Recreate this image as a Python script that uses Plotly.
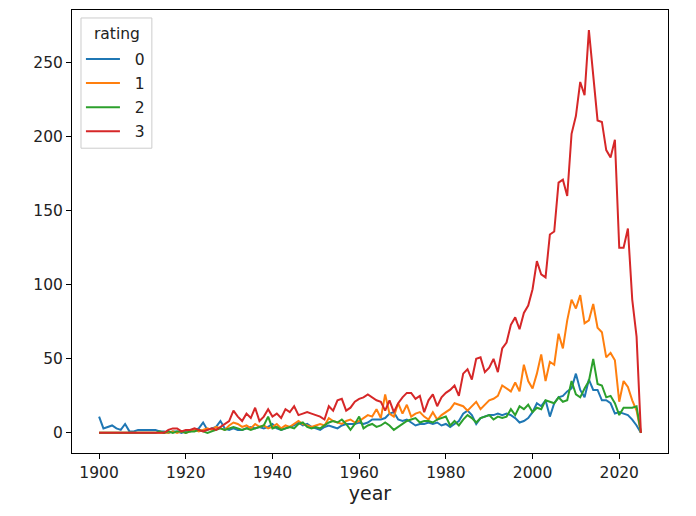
import plotly.graph_objects as go

# Yearly counts per rating
years = list(range(1900, 2026))

rating_0 = [11, 3, 4, 5, 3, 2, 6, 1, 1, 2,
            2, 2, 2, 2, 1, 1, 0, 1, 1, 0,
            1, 1, 2, 3, 7, 2, 3, 4, 8, 3,
            2, 3, 2, 2, 3, 4, 3, 4, 3, 4,
            6, 3, 2, 3, 4, 5, 7, 5, 6, 4,
            3, 2, 4, 5, 4, 3, 5, 6, 6, 6,
            7, 6, 7, 9, 9, 9, 10, 13, 14, 9,
            8, 9, 7, 5, 6, 6, 7, 6, 7, 5,
            6, 4, 6, 8, 13, 15, 12, 6, 10, 11,
            12, 12, 13, 12, 13, 12, 10, 7, 8, 10,
            14, 20, 18, 22, 11, 20, 24, 25, 28, 30,
            40, 29, 24, 36, 29, 29, 22, 22, 20, 13,
            14, 13, 12, 9, 5, 0]

rating_1 = [0, 0, 0, 0, 0, 0, 0, 0, 0, 0,
            0, 0, 0, 0, 0, 0, 0, 1, 0, 1,
            0, 1, 2, 1, 2, 3, 2, 4, 3, 2,
            5, 7, 6, 4, 5, 3, 6, 4, 5, 3,
            4, 6, 3, 5, 4, 6, 8, 6, 5, 4,
            5, 6, 5, 10, 8, 7, 6, 8, 9, 7,
            8, 10, 12, 11, 16, 10, 26, 13, 11, 20,
            13, 19, 11, 13, 14, 11, 9, 14, 9, 12,
            14, 16, 20, 19, 18, 15, 18, 21, 16, 19,
            22, 23, 25, 32, 30, 28, 34, 28, 46, 35,
            30, 40, 53, 35, 48, 46, 67, 57, 76, 90,
            84, 93, 74, 76, 87, 71, 68, 51, 54, 49,
            21, 35, 31, 22, 15, 0]

rating_2 = [0, 0, 0, 0, 0, 0, 0, 0, 0, 0,
            0, 0, 0, 0, 1, 0, 1, 0, 1, 1,
            0, 1, 1, 2, 1, 0, 1, 2, 3, 2,
            3, 4, 3, 2, 3, 2, 3, 4, 5, 11,
            3, 4, 2, 3, 4, 3, 6, 7, 4, 3,
            4, 3, 5, 7, 8, 7, 9, 6, 2, 6,
            11, 3, 5, 6, 4, 5, 7, 5, 2, 4,
            6, 8, 9, 10, 7, 8, 8, 7, 9, 10,
            11, 5, 8, 5, 9, 12, 10, 7, 10, 11,
            12, 9, 11, 10, 11, 16, 12, 18, 16, 19,
            14, 17, 16, 22, 21, 20, 24, 21, 22, 35,
            26, 24, 30, 35, 50, 33, 32, 24, 25, 20,
            12, 17, 17, 17, 18, 0]

rating_3 = [0, 0, 0, 0, 0, 0, 0, 0, 0, 0,
            0, 0, 0, 0, 0, 0, 2, 3, 3, 1,
            2, 2, 3, 2, 1, 2, 3, 2, 4, 6,
            8, 15, 11, 8, 13, 10, 17, 8, 11, 16,
            11, 13, 10, 16, 14, 18, 12, 13, 14, 13,
            12, 11, 9, 18, 15, 22, 23, 15, 17, 21,
            23, 24, 26, 24, 22, 21, 15, 22, 14, 20,
            24, 27, 27, 23, 25, 14, 22, 26, 18, 24,
            27, 29, 32, 25, 40, 43, 36, 50, 51, 41,
            44, 50, 41, 57, 61, 73, 78, 70, 81, 86,
            97, 116, 107, 105, 134, 136, 169, 171, 160, 202,
            214, 237, 228, 272, 240, 211, 210, 191, 186, 198,
            125, 125, 138, 90, 65, 0]

series = {"0": rating_0, "1": rating_1, "2": rating_2, "3": rating_3}
colors = ["#1f77b4", "#ff7f0e", "#2ca02c", "#d62728"]

fig = go.Figure()
for (name, values), color in zip(series.items(), colors):
    fig.add_trace(go.Scatter(x=years, y=values, mode="lines",
                             name="\u00a0\u00a0" + name,
                             legendgroup=name,
                             line=dict(color=color, width=2)))

axis_style = dict(showline=True, linecolor="black", linewidth=1, mirror=True,
                  ticks="outside", ticklen=5, tickcolor="black",
                  showgrid=False, zeroline=False)

# legend frame and title drawn by hand so the spacing matches matplotlib
fig.add_shape(type="rect", xref="paper", yref="paper",
              x0=0.0151, x1=0.134, y0=0.688, y1=0.982,
              line=dict(color="#cccccc", width=1),
              fillcolor="rgba(255,255,255,0.8)", layer="above")
fig.add_annotation(text="rating", xref="paper", yref="paper",
                   x=0.0747, y=0.9458, xanchor="center", yanchor="middle",
                   showarrow=False, font=dict(size=15.5))

# the page body adds 8px around the figure, so the figure is a bit smaller
fig.update_layout(
    width=680, height=500,
    margin=dict(l=64, r=20, t=2, b=55),
    paper_bgcolor="white", plot_bgcolor="white",
    font=dict(family="DejaVu Sans", size=15.5, color="#222222"),
    xaxis=dict(range=[1893.75, 2031.25], tickvals=list(range(1900, 2021, 20)),
               title=dict(text="year", standoff=6), **axis_style),
    yaxis=dict(range=[-13.6, 285.6], tickvals=[0, 50, 100, 150, 200, 250],
               **axis_style),
    legend=dict(x=0.015, y=0.927, xanchor="left", yanchor="top",
                bgcolor="rgba(0,0,0,0)", borderwidth=0,
                itemwidth=34, tracegroupgap=1, font=dict(size=15.5)),
    showlegend=True,
)

fig.write_html("out.html")
